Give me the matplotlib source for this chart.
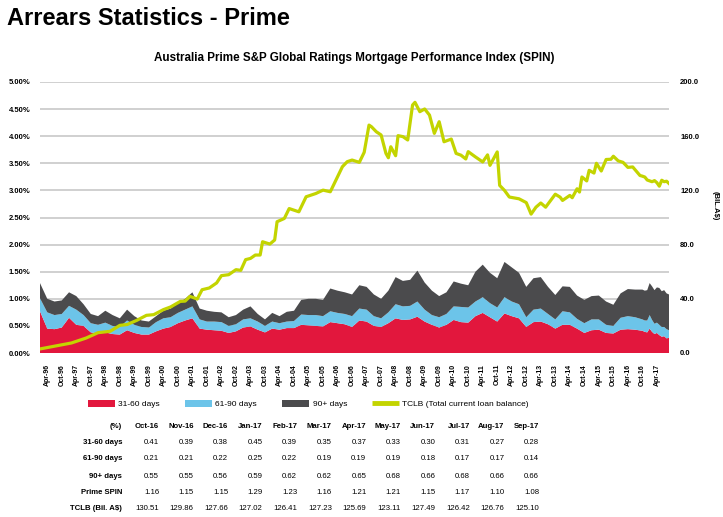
"""
Arrears Statistics - Prime: stacked arrears buckets with TCLB overlay and summary table
"""
import matplotlib
matplotlib.use('Agg')
import matplotlib.pyplot as plt
import numpy as np
import pandas as pd
from matplotlib.patches import Patch
from matplotlib.lines import Line2D

plt.rcParams['font.family'] = ['Liberation Sans', 'DejaVu Sans']

# ---------------------------------------------
# Data (months counted from Jan-96)
# ---------------------------------------------
area_months = list(range(0, 247, 3)) + list(range(249, 261))

arrears_31_60 = [0.77, 0.45, 0.44, 0.47, 0.65, 0.52, 0.50, 0.38, 0.36, 0.38,
                 0.35, 0.34, 0.42, 0.37, 0.34, 0.34, 0.40, 0.45, 0.48, 0.55,
                 0.60, 0.64, 0.45, 0.43, 0.42, 0.41, 0.37, 0.40, 0.47, 0.49,
                 0.43, 0.38, 0.45, 0.43, 0.46, 0.46, 0.52, 0.51, 0.50, 0.49,
                 0.57, 0.55, 0.53, 0.48, 0.60, 0.58, 0.50, 0.48, 0.55, 0.64,
                 0.61, 0.62, 0.67, 0.58, 0.52, 0.47, 0.52, 0.61, 0.57, 0.56,
                 0.68, 0.74, 0.66, 0.58, 0.73, 0.68, 0.64, 0.48, 0.57, 0.58,
                 0.53, 0.45, 0.52, 0.52, 0.45, 0.37, 0.42, 0.43, 0.37, 0.36,
                 0.43, 0.44, 0.43,
                 0.41, 0.39, 0.38, 0.45, 0.39, 0.35, 0.37, 0.33, 0.30, 0.31, 0.27, 0.28]

arrears_61_90 = [0.24, 0.30, 0.26, 0.25, 0.22, 0.28, 0.20, 0.17, 0.16, 0.18,
                 0.15, 0.14, 0.18, 0.15, 0.14, 0.13, 0.17, 0.19, 0.18, 0.19,
                 0.20, 0.22, 0.17, 0.15, 0.16, 0.16, 0.13, 0.13, 0.15, 0.15,
                 0.15, 0.12, 0.13, 0.12, 0.12, 0.13, 0.19, 0.19, 0.20, 0.19,
                 0.20, 0.19, 0.19, 0.20, 0.22, 0.22, 0.18, 0.16, 0.20, 0.26,
                 0.25, 0.25, 0.28, 0.22, 0.18, 0.19, 0.20, 0.25, 0.28, 0.28,
                 0.27, 0.29, 0.26, 0.26, 0.30, 0.27, 0.26, 0.18, 0.23, 0.24,
                 0.19, 0.17, 0.25, 0.23, 0.18, 0.18, 0.20, 0.19, 0.15, 0.14,
                 0.22, 0.24, 0.23,
                 0.21, 0.21, 0.22, 0.25, 0.22, 0.19, 0.19, 0.19, 0.18, 0.17, 0.17, 0.14]

arrears_90_plus = [0.28, 0.25, 0.25, 0.25, 0.25, 0.25, 0.20, 0.17, 0.16, 0.22,
                   0.20, 0.16, 0.20, 0.16, 0.12, 0.11, 0.11, 0.14, 0.16, 0.18,
                   0.20, 0.26, 0.20, 0.20, 0.18, 0.18, 0.16, 0.17, 0.18, 0.22,
                   0.14, 0.12, 0.16, 0.13, 0.18, 0.19, 0.27, 0.30, 0.30, 0.30,
                   0.42, 0.41, 0.40, 0.40, 0.43, 0.42, 0.40, 0.36, 0.40, 0.50,
                   0.47, 0.48, 0.57, 0.50, 0.45, 0.39, 0.40, 0.46, 0.43, 0.41,
                   0.55, 0.60, 0.56, 0.54, 0.65, 0.63, 0.58, 0.56, 0.58, 0.58,
                   0.50, 0.45, 0.46, 0.47, 0.43, 0.43, 0.43, 0.44, 0.43, 0.39,
                   0.45, 0.50, 0.51,
                   0.55, 0.55, 0.56, 0.59, 0.62, 0.62, 0.65, 0.68, 0.66, 0.68, 0.66, 0.66]

tclb_dates = ['1996-01', '1997-02', '1997-08', '1998-01', '1998-06', '1998-10', '1999-01', '1999-05', '1999-09', '1999-12',
              '2000-04', '2000-07', '2000-11', '2001-01', '2001-03', '2001-06', '2001-08', '2001-11', '2002-02', '2002-04',
              '2002-07', '2002-10', '2002-12', '2003-02', '2003-04', '2003-06', '2003-08', '2003-09', '2003-12', '2004-02',
              '2004-03', '2004-06', '2004-08', '2004-12', '2005-03', '2005-07', '2005-10', '2006-01', '2006-03', '2006-06',
              '2006-08', '2006-10', '2007-01', '2007-03', '2007-05', '2007-06', '2007-08', '2007-10', '2007-12', '2008-01',
              '2008-02', '2008-04', '2008-05', '2008-07', '2008-09', '2008-11', '2008-12', '2009-02', '2009-04', '2009-06',
              '2009-08', '2009-10', '2009-12', '2010-03', '2010-05', '2010-07', '2010-09', '2010-10', '2011-01', '2011-04',
              '2011-06', '2011-07', '2011-10', '2011-11', '2012-01', '2012-03', '2012-07', '2012-10', '2012-12', '2013-02',
              '2013-04', '2013-06', '2013-07', '2013-10', '2013-12', '2014-01', '2014-04', '2014-05', '2014-07', '2014-08',
              '2014-09', '2014-11', '2014-12', '2015-02', '2015-03', '2015-05', '2015-07', '2015-09', '2015-10', '2015-12',
              '2016-02', '2016-04', '2016-06', '2016-09', '2016-10', '2016-11', '2016-12', '2017-01', '2017-02', '2017-03',
              '2017-04', '2017-05', '2017-06', '2017-07', '2017-08', '2017-09']

tclb_values = [3.0, 7.4, 11.0, 15.0, 16.0, 20.4, 21.0, 24.1, 27.8, 28.3,
               32.0, 34.0, 38.1, 38.3, 41.8, 39.8, 46.7, 48.0, 51.7, 57.1,
               57.8, 61.5, 61.0, 68.9, 69.8, 72.3, 72.3, 82.1, 80.4, 83.4,
               96.9, 99.3, 106.6, 104.2, 115.3, 117.7, 120.2, 119.0, 126.4, 137.5,
               141.2, 142.4, 140.7, 148.1, 168.2, 167.0, 163.3, 160.9, 147.3, 144.1,
               152.2, 145.6, 160.4, 159.7, 157.2, 183.0, 185.0, 178.1, 180.1, 175.6,
               162.1, 170.7, 155.9, 157.9, 147.3, 146.0, 143.2, 148.6, 144.7, 141.0,
               146.2, 138.5, 148.4, 123.7, 120.0, 115.1, 113.8, 111.0, 102.5, 107.6,
               110.7, 107.6, 110.0, 117.2, 115.0, 112.6, 116.3, 114.6, 121.2, 118.8,
               129.9, 127.0, 134.8, 132.8, 140.0, 134.3, 142.8, 143.0, 145.2, 141.8,
               140.7, 137.0, 137.3, 131.0, 130.51, 129.86, 127.66, 127.02, 126.41, 127.23,
               125.69, 123.11, 127.49, 126.42, 126.76, 125.10]

# Summary table (last 12 months)
table_months = ['Oct-16', 'Nov-16', 'Dec-16', 'Jan-17', 'Feb-17', 'Mar-17',
                'Apr-17', 'May-17', 'Jun-17', 'Jul-17', 'Aug-17', 'Sep-17']
table_31_60 = ['0.41', '0.39', '0.38', '0.45', '0.39', '0.35', '0.37', '0.33', '0.30', '0.31', '0.27', '0.28']
table_61_90 = ['0.21', '0.21', '0.22', '0.25', '0.22', '0.19', '0.19', '0.19', '0.18', '0.17', '0.17', '0.14']
table_90_plus = ['0.55', '0.55', '0.56', '0.59', '0.62', '0.62', '0.65', '0.68', '0.66', '0.68', '0.66', '0.66']
table_spin = ['1.16', '1.15', '1.15', '1.29', '1.23', '1.16', '1.21', '1.21', '1.15', '1.17', '1.10', '1.08']
table_tclb = ['130.51', '129.86', '127.66', '127.02', '126.41', '127.23',
              '125.69', '123.11', '127.49', '126.42', '126.76', '125.10']


def month_index(s):
    y, m = s.split('-')
    return (int(y) - 1996) * 12 + int(m) - 1


tclb_months = [month_index(d) for d in tclb_dates]

RED = '#E2173D'
BLUE = '#6CC4E9'
DARK = '#4B4B4D'
GREEN = '#C3D400'
GRID = '#C4C4C4'

# ---------------------------------------------
# Figure
# ---------------------------------------------
W, H = 723, 517
fig = plt.figure(figsize=(W / 100, H / 100), dpi=100)
ax = fig.add_axes([40 / W, 1 - 353 / H, (669 - 40) / W, (353 - 82) / H])

ax.stackplot(area_months, arrears_31_60, arrears_61_90, arrears_90_plus,
             colors=[RED, BLUE, DARK], linewidth=0, zorder=2)

ax.set_xlim(0, 260)
ax.set_ylim(0, 5)
ax.set_yticks(np.arange(0, 5.01, 0.5))
ax.set_yticklabels(['%.2f%%' % v for v in np.arange(0, 5.01, 0.5)], fontsize=5.5, fontweight='bold')
ax.yaxis.grid(True, color=GRID, linewidth=1.1, zorder=0)
ax.set_axisbelow(True)
for s in ax.spines.values():
    s.set_visible(False)
ax.tick_params(axis='both', length=0)
ax.tick_params(axis='y', pad=7)

tick_pos = list(range(3, 256, 6))
tick_lab = pd.date_range('1996-04-01', periods=len(tick_pos), freq='6MS').strftime('%b-%y')
ax.set_xticks(tick_pos)
ax.set_xticklabels(tick_lab, rotation=90, fontsize=5, fontweight='bold')
ax.tick_params(axis='x', pad=8)

ax2 = ax.twinx()
ax2.plot(tclb_months, tclb_values, color=GREEN, linewidth=2.3, solid_joinstyle='round', zorder=5)
ax2.set_ylim(0, 200)
ax2.set_yticks(np.arange(0, 201, 40))
ax2.set_yticklabels(['%.1f' % v for v in np.arange(0, 201, 40)], fontsize=5.5, fontweight='bold')
ax2.tick_params(axis='y', length=0, pad=8)
for s in ax2.spines.values():
    s.set_visible(False)

fig.text(715 / W, 1 - 206 / H, '(BIL.A$)', rotation=270, fontsize=5.5, fontweight='bold',
         ha='center', va='center')

# Titles
fig.text(7 / W, 1 - 25 / H, 'Arrears Statistics - Prime', fontsize=17, fontweight='bold',
         ha='left', va='baseline')
fig.text(354 / W, 1 - 57.5 / H,
         'Australia Prime S&P Global Ratings Mortgage Performance Index (SPIN)',
         fontsize=8.4, fontweight='bold', ha='center', va='center')

# Legend
handles = [Patch(facecolor=RED, edgecolor='none', label='31-60 days'),
           Patch(facecolor=BLUE, edgecolor='none', label='61-90 days'),
           Patch(facecolor=DARK, edgecolor='none', label='90+ days'),
           Line2D([0], [0], color=GREEN, linewidth=3.5, solid_capstyle='butt',
                  label='TCLB (Total current loan balance)')]
fig.legend(handles=handles, loc='center left', bbox_to_anchor=(88 / W, 1 - 404 / H),
           ncol=4, frameon=False, fontsize=6, handlelength=3.25, handleheight=1.0,
           handletextpad=0.4, columnspacing=3.0, borderpad=0, borderaxespad=0)

# Table
label_x = 122 / W
col_x = [(159 + 34.55 * i) / W for i in range(12)]
rows = [('31-60 days', table_31_60), ('61-90 days', table_61_90), ('90+ days', table_90_plus),
        ('Prime SPIN', table_spin), ('TCLB (Bil. A$)', table_tclb)]
row_y = [442, 459, 476, 492, 508]
tfont = ['Liberation Sans Narrow', 'Liberation Sans']

fig.text(label_x, 1 - 427 / H, '(%)', fontsize=5.6, fontweight='bold', ha='right', va='center', family=tfont)
for x, mth in zip(col_x, table_months):
    fig.text(x, 1 - 427 / H, mth, fontsize=5.6, fontweight='bold', ha='right', va='center', family=tfont)
for (lab, vals), y in zip(rows, row_y):
    fig.text(label_x, 1 - y / H, lab, fontsize=5.6, fontweight='bold', ha='right', va='center', family=tfont)
    for x, v in zip(col_x, vals):
        fig.text(x, 1 - y / H, v, fontsize=5.6, ha='right', va='center', family=tfont)

plt.savefig('out.png', dpi=100, facecolor='white')
print("Chart saved: out.png")
